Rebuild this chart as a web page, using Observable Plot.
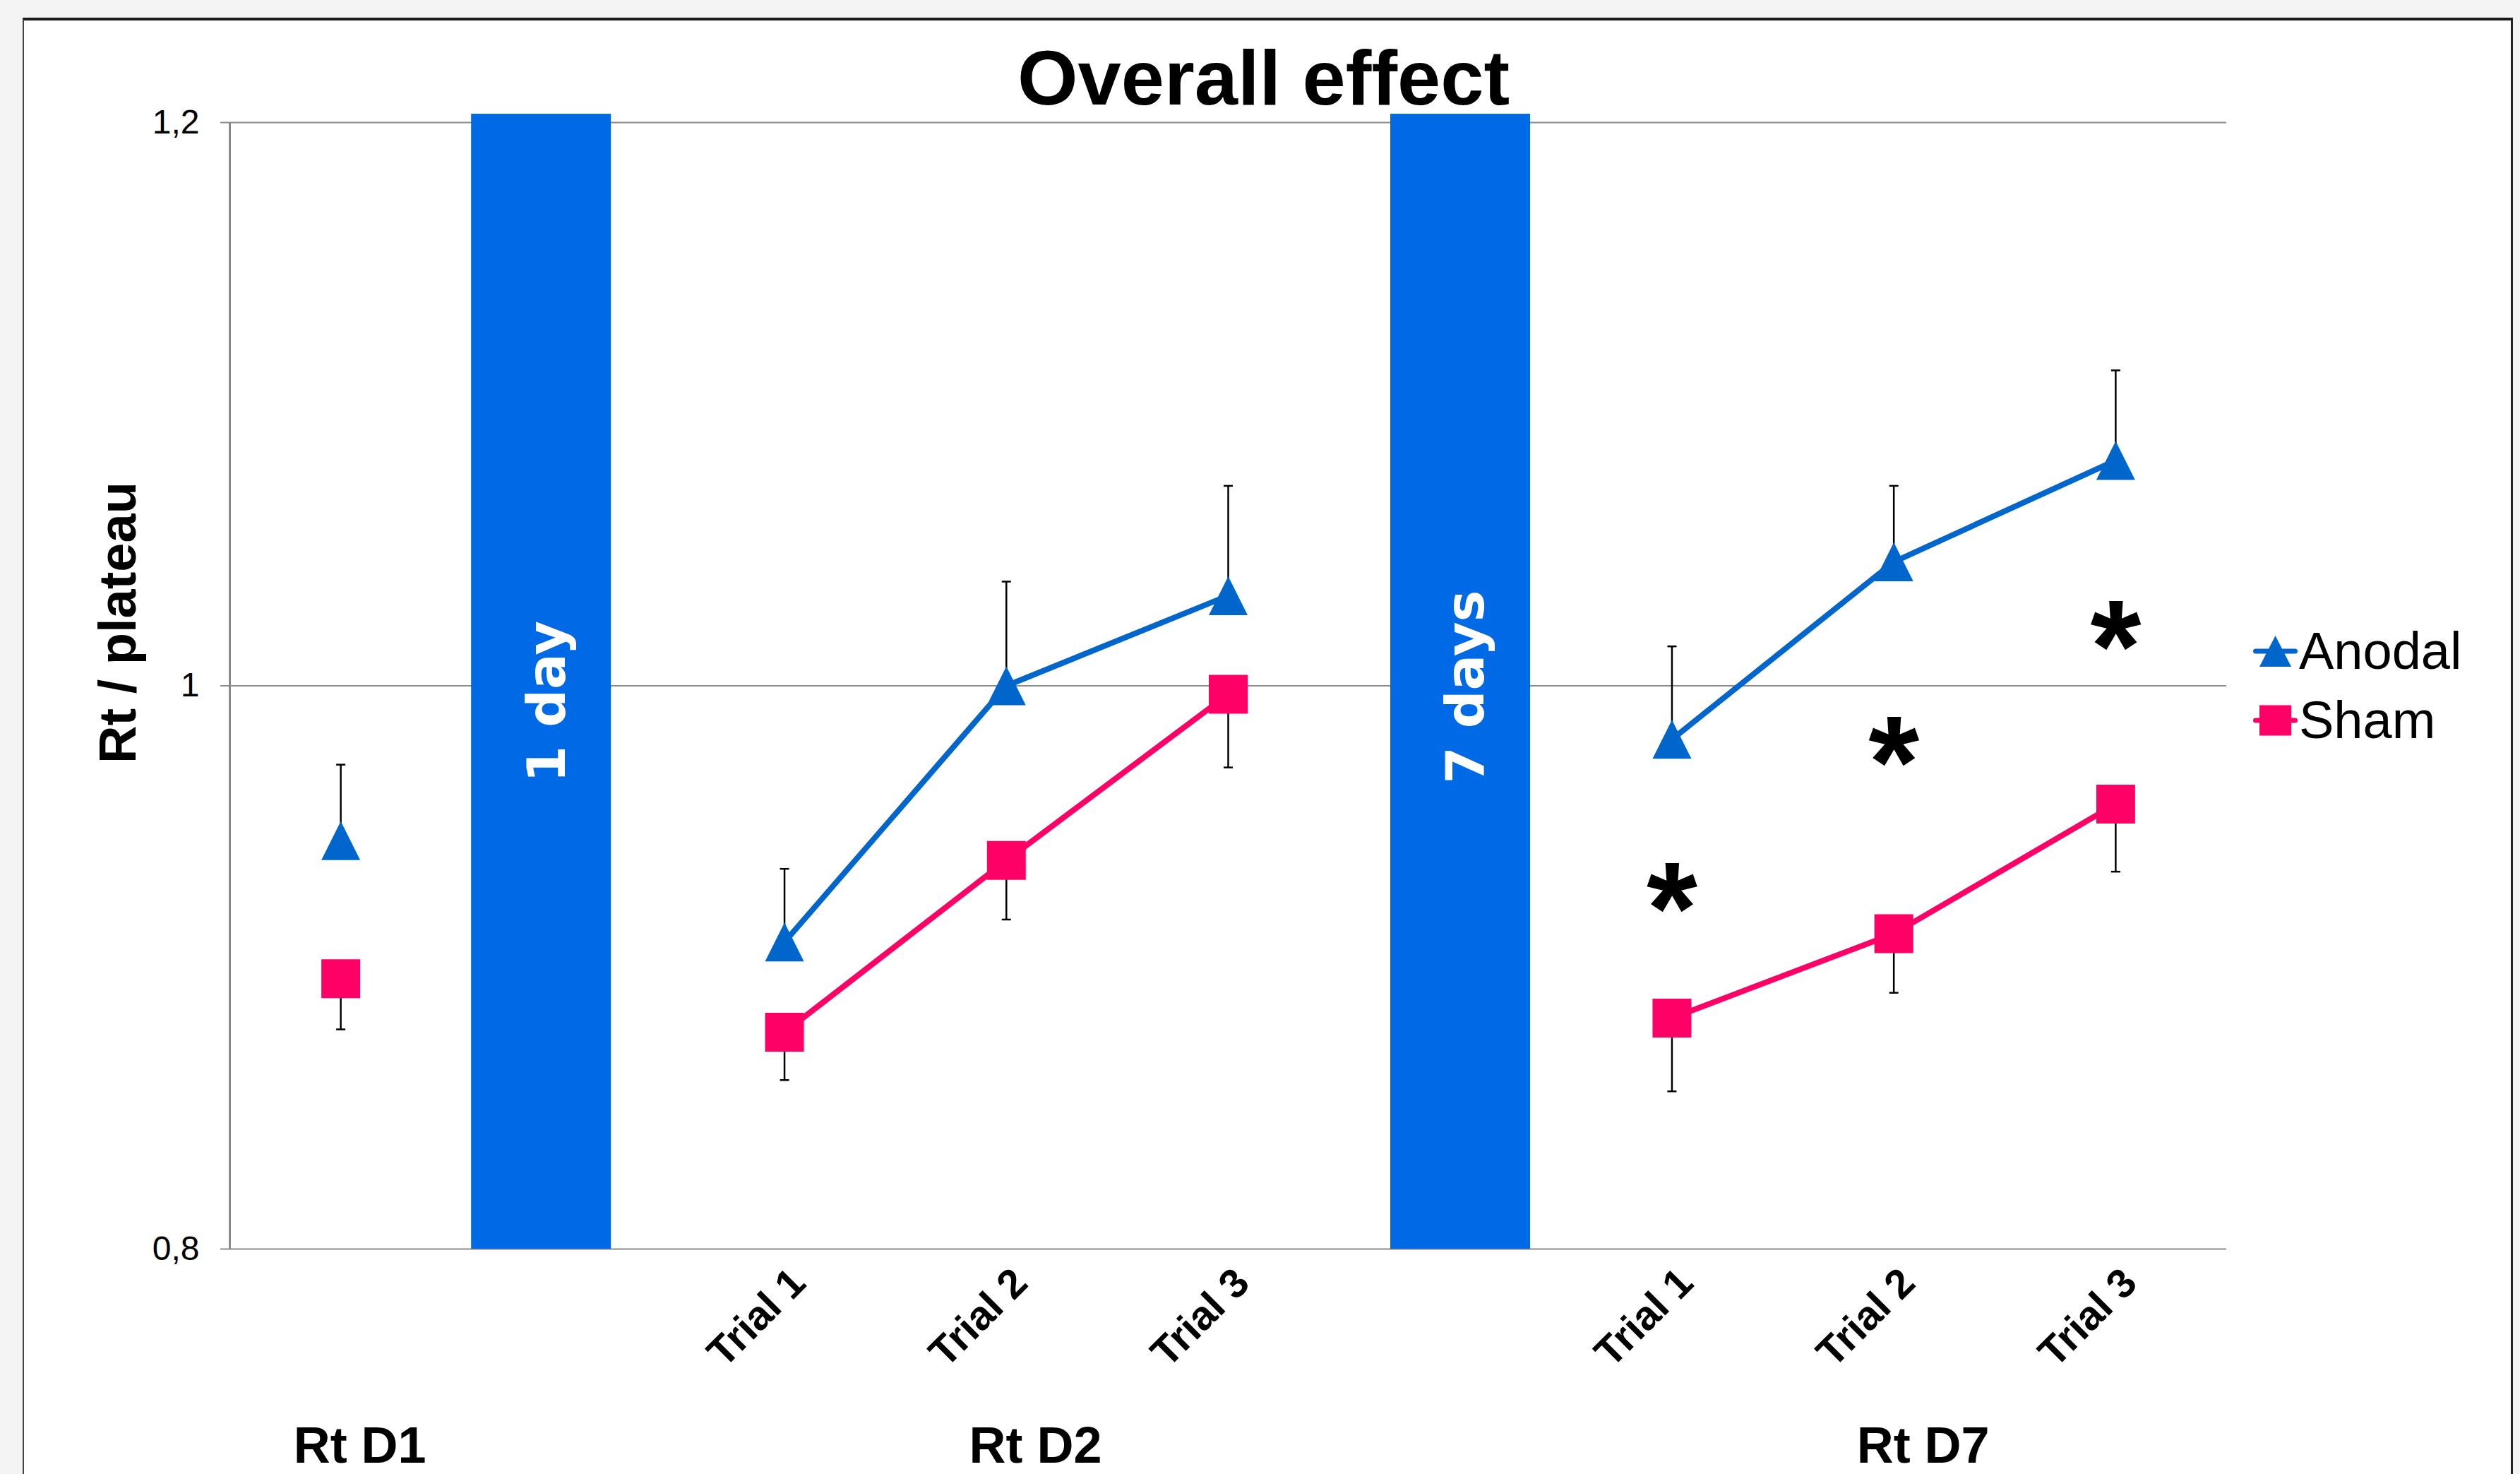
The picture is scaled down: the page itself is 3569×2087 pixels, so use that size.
<!DOCTYPE html>
<html>
<head>
<meta charset="utf-8">
<script src="https://cdn.jsdelivr.net/npm/d3@7"></script>
<script src="https://cdn.jsdelivr.net/npm/@observablehq/plot@0.6"></script>
<style>
  html, body { margin: 0; padding: 0; background: #f4f4f4; width: 3569px; height: 2087px; overflow: hidden; }
  #panel { position: absolute; left: 32px; top: 25px; width: 3522px; height: 2200px; background: #fff;
           border-top: 4px solid #1a1a1a; border-left: 2px solid #444; border-right: 3px solid #222; }
  #chart { position: absolute; left: 0; top: 0; }
  .legend-row { position: absolute; left: 3191px; height: 98px; display: flex; align-items: center;
                font-family: 'Liberation Sans', Arial, sans-serif; font-size: 74px; line-height: 74px; color: #000; }
  .legend-row svg { display: block; margin-right: 2px; }
</style>
</head>
<body>
<div id="panel"></div>
<div id="chart"></div>
<div id="legend"></div>
<script>
// ---- data ----
const xIndex     = [0, 2, 3, 4, 6, 7, 8];           // category slots of the measurements
const session    = ["Rt D1", "Rt D2", "Rt D2", "Rt D2", "Rt D7", "Rt D7", "Rt D7"];
const anodalMean = [0.945, 0.909, 1.000, 1.032, 0.981, 1.044, 1.080];
const anodalSE   = [0.027, 0.026, 0.037, 0.039, 0.033, 0.027, 0.032];
const shamMean   = [0.896, 0.877, 0.938, 0.997, 0.882, 0.912, 0.958];
const shamSE     = [0.018, 0.017, 0.021, 0.026, 0.026, 0.021, 0.024];

const seriesNames  = ["Anodal", "Sham"];
const seriesColors = ["#0066CC", "#FF0066"];

const trialLabels = ["Trial 1", "Trial 2", "Trial 3", "Trial 1", "Trial 2", "Trial 3"];
const trialIndex  = [2, 3, 4, 6, 7, 8];

const groupLabels = ["Rt D1", "Rt D2", "Rt D7"];
const groupPos    = [0.086, 3.131, 7.132];

const dividerLabels = ["1 day", "7 days"];
const dividerStart  = [0.589, 4.732];
const dividerEnd    = [1.219, 5.362];
const dividerLabelY = [0.9944, 0.9996];
const dividerTop    = 1.203;

const sigIndex = [6, 7, 8];
const sigY     = [0.928, 0.980, 1.021];

const yTicks = [0.8, 1, 1.2];

// ---- tables ----
const rows = [];
xIndex.forEach((x, i) => {
  rows.push({series: "Anodal", x, session: session[i], mean: anodalMean[i], err: anodalMean[i] + anodalSE[i]});
  rows.push({series: "Sham",   x, session: session[i], mean: shamMean[i],   err: shamMean[i] - shamSE[i]});
});
const dividers = dividerLabels.map((label, i) => ({label, x1: dividerStart[i], x2: dividerEnd[i], top: dividerTop, ly: dividerLabelY[i]}));
const stars = sigIndex.map((x, i) => ({x, y: sigY[i]}));

// ---- symbols ----
const triangle = {draw(ctx, size) { const r = Math.sqrt(size / Math.PI); ctx.moveTo(0, -r); ctx.lineTo(r, r); ctx.lineTo(-r, r); ctx.closePath(); }};
const square   = {draw(ctx, size) { const r = Math.sqrt(size / Math.PI); ctx.rect(-r, -r, 2 * r, 2 * r); }};
const capSym   = {draw(ctx, size) { const r = Math.sqrt(size / Math.PI); ctx.moveTo(-r, 0); ctx.lineTo(r, 0); }};

const gray = "#8a8a8a";
const bold = "bold";

const chart = Plot.plot({
  width: 3569, height: 2087,
  marginLeft: 325, marginRight: 416, marginTop: 173, marginBottom: 319,
  x: {domain: [-0.5, 8.5], axis: null},
  y: {domain: [0.8, 1.2], axis: null},
  color: {domain: seriesNames, range: seriesColors},
  style: {background: "transparent", fontFamily: "'Liberation Sans', Arial, sans-serif", fontSize: "48px", color: "black", overflow: "visible"},
  marks: [
    Plot.gridY(yTicks, {stroke: gray, strokeOpacity: 1, strokeWidth: 2}),
    Plot.ruleX([-0.5], {stroke: gray, strokeWidth: 3}),
    Plot.axisY(yTicks, {tickSize: 13, tickPadding: 30, tickFormat: d => String(d).replace(".", ","),
                        stroke: gray, strokeWidth: 2, fill: "black", fontSize: 48, label: null}),
    Plot.rect(dividers, {x1: "x1", x2: "x2", y1: 0.8, y2: "top", fill: "#0069E6"}),
    Plot.text(dividers, {x: d => (d.x1 + d.x2) / 2, y: "ly", text: "label", rotate: -90, dx: 9,
                         fill: "white", fontFamily: "'DejaVu Sans', Verdana, sans-serif", fontWeight: bold, fontSize: 75}),
    Plot.ruleX(rows, {x: "x", y1: "mean", y2: "err", stroke: "black", strokeWidth: 2.5}),
    Plot.dot(rows, {x: "x", y: "err", symbol: capSym, r: 6.5, stroke: "black", strokeWidth: 2.5, fill: "none"}),
    Plot.line(rows.filter(d => d.session !== "Rt D1"), {x: "x", y: "mean", z: d => d.series + d.session,
                         stroke: "series", strokeWidth: 8, strokeLinejoin: "round"}),
    Plot.dot(rows.filter(d => d.series === "Anodal"), {x: "x", y: "mean", symbol: triangle, r: 27.5, fill: "series", stroke: "none"}),
    Plot.dot(rows.filter(d => d.series === "Sham"),   {x: "x", y: "mean", symbol: square,   r: 27.5, fill: "series", stroke: "none"}),
    Plot.text(stars, {x: "x", y: "y", text: () => "*", fontSize: 185, fontWeight: bold, lineAnchor: "bottom", dy: 92}),
    Plot.text(trialLabels, {x: (d, i) => trialIndex[i], frameAnchor: "bottom", dx: 20, dy: 38, rotate: -45,
                            textAnchor: "end", lineAnchor: "middle", fontSize: 58, fontWeight: bold}),
    Plot.text(groupLabels, {x: (d, i) => groupPos[i], frameAnchor: "bottom", dy: 302, lineAnchor: "bottom",
                            fontSize: 72, fontWeight: bold}),
    Plot.text(["Overall effect"], {frameAnchor: "top", dx: 50, dy: -26, lineAnchor: "bottom", fontSize: 110, fontWeight: bold}),
    Plot.text(["Rt / plateau"], {frameAnchor: "left", rotate: -90, dx: -157, dy: 110, lineAnchor: "middle", fontSize: 74, fontWeight: bold})
  ]
});
document.getElementById("chart").appendChild(chart);

// ---- legend ----
const legend = document.getElementById("legend");
const legendTops = [873, 971];
seriesNames.forEach((name, i) => {
  const row = document.createElement("div");
  row.className = "legend-row";
  row.style.top = legendTops[i] + "px";
  const c = seriesColors[i];
  const marker = i === 0
    ? `<path d="M31.5,8 L54,52 L9,52 Z" fill="${c}"/>`
    : `<rect x="9" y="8.5" width="45" height="43" fill="${c}"/>`;
  row.innerHTML = `<svg width="63" height="60" viewBox="0 0 63 60"><line x1="3.5" y1="30" x2="59.5" y2="30" stroke="${c}" stroke-width="7" stroke-linecap="round"/>${marker}</svg><span>${name}</span>`;
  legend.appendChild(row);
});
</script>
</body>
</html>
